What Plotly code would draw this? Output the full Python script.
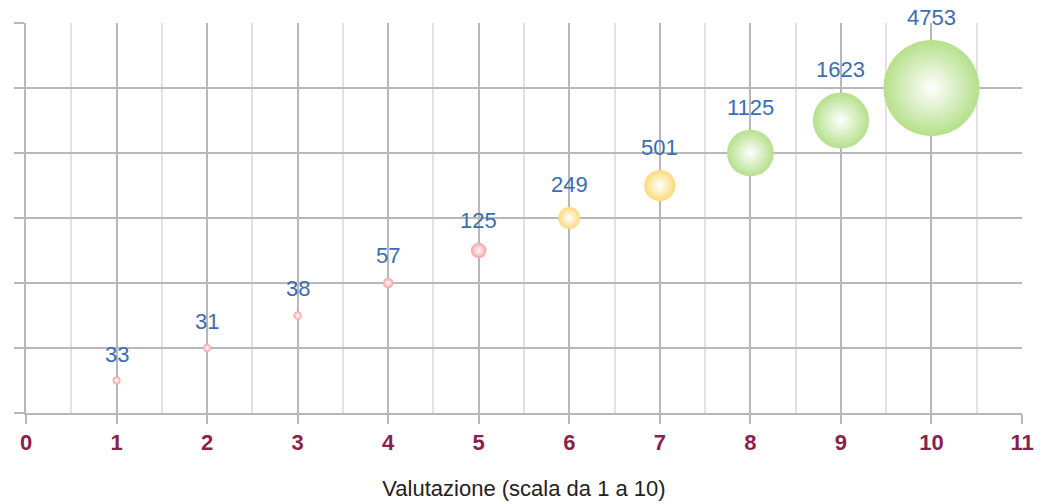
import math
import plotly.graph_objects as go

ratings = [1, 2, 3, 4, 5, 6, 7, 8, 9, 10]
positions = [0.5, 1.0, 1.5, 2.0, 2.5, 3.0, 3.5, 4.0, 4.5, 5.0]
counts = [33, 31, 38, 57, 125, 249, 501, 1125, 1623, 4753]
bubble_colors = ["#F7A3A3"] * 5 + ["#FCD97A"] * 2 + ["#B5E08A"] * 3
x_ticks = list(range(0, 12))

max_diam = 96
fig = go.Figure()
fig.add_trace(go.Scatter(
    x=ratings, y=positions, mode="markers",
    marker=dict(size=counts, sizemode="area", sizeref=2 * max(counts) / max_diam ** 2,
                sizemin=4,
                color=bubble_colors, opacity=1,
                gradient=dict(type="radial", color="white"),
                line=dict(width=0)),
    cliponaxis=False, showlegend=False, hoverinfo="skip",
))

for xv, yv, c in zip(ratings, positions, counts):
    radius = max(4, max_diam * math.sqrt(c / max(counts))) / 2
    fig.add_annotation(
        x=xv, y=yv, text=str(c), showarrow=False,
        yanchor="bottom", yshift=radius + 8,
        font=dict(family="Liberation Sans, Arial, sans-serif", size=22, color="#3A6DB5"),
    )

fig.update_layout(
    width=1052, height=504,
    margin=dict(l=26, r=30, t=23, b=91),
    plot_bgcolor="white", paper_bgcolor="white",
    font=dict(family="Liberation Sans, Arial, sans-serif"),
)
fig.update_xaxes(
    range=[0, 11], tickvals=x_ticks, ticktext=[str(t) for t in x_ticks],
    showgrid=True, gridcolor="#B8B8B8", gridwidth=1.5,
    minor=dict(dtick=0.5, showgrid=True, gridcolor="#E2E2E2", gridwidth=1.5),
    showline=True, linecolor="#B8B8B8", linewidth=1.5, mirror=False,
    ticks="outside", ticklen=9, tickcolor="#B8B8B8", tickwidth=1.5,
    tickfont=dict(size=22, color="#8B1F4F", family="Liberation Sans, Arial, sans-serif", weight="bold"),
    title=dict(text="Valutazione (scala da 1 a 10)", font=dict(size=22, color="#222222"), standoff=26),
    zeroline=False, automargin=False,
)
fig.update_yaxes(
    range=[0, 6], dtick=1, showticklabels=False,
    showgrid=True, gridcolor="#B8B8B8", gridwidth=1.5,
    showline=True, linecolor="#B8B8B8", linewidth=1.5,
    ticks="outside", ticklen=10, tickcolor="#B8B8B8", tickwidth=1.5,
    zeroline=False, automargin=False,
)
fig.write_html("out.html", config={"displayModeBar": False},
               post_script="document.body.style.margin='0px';")
